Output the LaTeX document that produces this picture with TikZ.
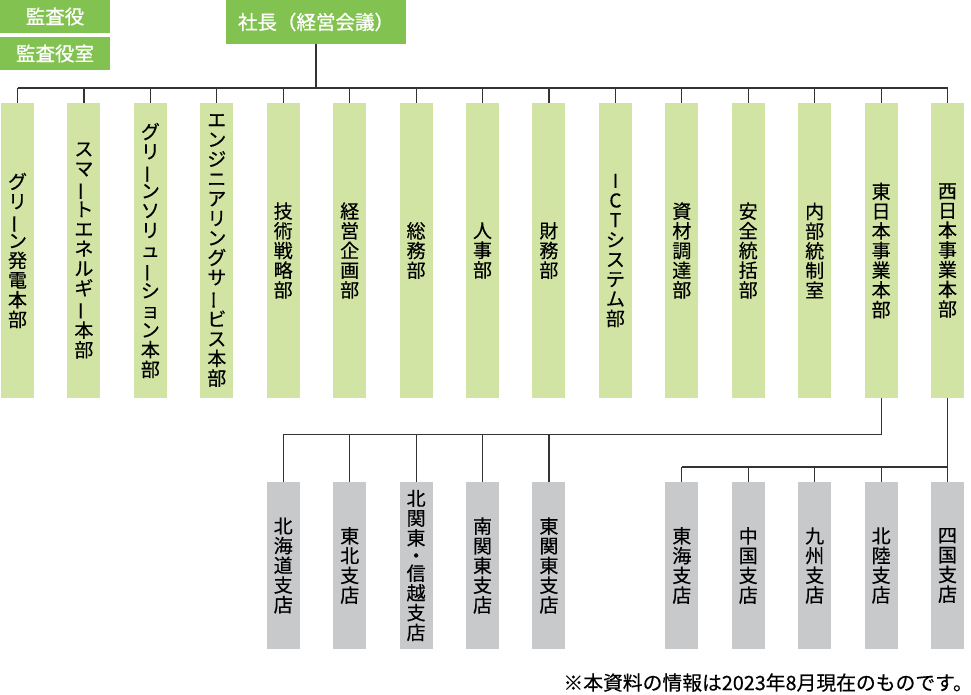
\documentclass[tikz,border=0pt]{standalone}
\usepackage{fontspec}
\usepackage{xcolor}
\setmainfont{Noto Sans CJK JP}
\newfontfamily\jpmed{Noto Sans CJK JP}[FakeBold=0.35]
\newfontfamily\jptop{Noto Sans CJK JP}[FakeBold=0.9]
\definecolor{TopGreen}{HTML}{82C250}
\definecolor{DeptGreen}{HTML}{D2E4A4}
\definecolor{BranchGray}{HTML}{C8C9CB}
\definecolor{EdgeLine}{HTML}{333333}
% vertical long-vowel mark
\newcommand{\cho}{\rotatebox[origin=c]{90}{ー}}

\begin{document}
\begin{tikzpicture}[
	x=1pt, y=-1pt,
	% Style for the top boxes (white text)
	node top/.style={
		rectangle,
		fill=TopGreen,
		text=white,
		inner sep=0pt,
		font=\jptop\fontsize{19.5}{21}\selectfont
	},
	% Styles for the vertical department / branch boxes
	node dept/.style={
		rectangle,
		fill=DeptGreen,
		text=black,
		minimum width=33,
		minimum height=295,
		inner sep=0pt,
		align=center,
		font=\jpmed\fontsize{19}{19.7}\selectfont
	},
	node branch/.style={
		rectangle,
		fill=BranchGray,
		text=black,
		minimum width=33,
		minimum height=167,
		inner sep=0pt,
		align=center,
		font=\jpmed\fontsize{19}{19.7}\selectfont
	},
	% Style for the connecting lines
	edge/.style={
		draw=EdgeLine,
		line width=1.2pt
	}
	]
	
	\useasboundingbox (0,0) rectangle (971,694);
	
	% ================= TOP =================
	\node[node top, minimum width=110, minimum height=33] (KA)  at (55, 16.5) {監査役};
	\node[node top, minimum width=110, minimum height=33] (KAS) at (55, 53.5) {監査役室};
	\node[node top, minimum width=180, minimum height=44] (CEO) at (316, 22) {社長（経営会議）};
	
	% ================= DEPARTMENTS =================
	\node[node dept] (D1)  at ( 17.5, 250.5) {グ\\リ\\\cho\\ン\\発\\電\\本\\部};
	\node[node dept] (D2)  at ( 83.9, 250.5) {ス\\マ\\\cho\\ト\\エ\\ネ\\ル\\ギ\\\cho\\本\\部};
	\node[node dept] (D3)  at (150.4, 250.5) {グ\\リ\\\cho\\ン\\ソ\\リ\\ュ\\\cho\\シ\\ョ\\ン\\本\\部};
	\node[node dept] (D4)  at (216.8, 250.5) {エ\\ン\\ジ\\ニ\\ア\\リ\\ン\\グ\\サ\\\cho\\ビ\\ス\\本\\部};
	\node[node dept] (D5)  at (283.2, 250.5) {技\\術\\戦\\略\\部};
	\node[node dept] (D6)  at (349.7, 250.5) {経\\営\\企\\画\\部};
	\node[node dept] (D7)  at (416.1, 250.5) {総\\務\\部};
	\node[node dept] (D8)  at (482.5, 250.5) {人\\事\\部};
	\node[node dept] (D9)  at (548.9, 250.5) {財\\務\\部};
	\node[node dept] (D10) at (615.4, 250.5) {I\\C\\T\\シ\\ス\\テ\\ム\\部};
	\node[node dept] (D11) at (681.8, 250.5) {資\\材\\調\\達\\部};
	\node[node dept] (D12) at (748.2, 250.5) {安\\全\\統\\括\\部};
	\node[node dept] (D13) at (814.7, 250.5) {内\\部\\統\\制\\室};
	\node[node dept] (EAST) at (881.1, 250.5) {東\\日\\本\\事\\業\\本\\部};
	\node[node dept] (WEST) at (947.5, 250.5) {西\\日\\本\\事\\業\\本\\部};
	
	% ================= BRANCHES =================
	\node[node branch] (B1)  at (283.2, 565.5) {北\\海\\道\\支\\店};
	\node[node branch] (B2)  at (349.7, 565.5) {東\\北\\支\\店};
	\node[node branch] (B3)  at (416.1, 565.5) {北\\関\\東\\[-2pt]・\\[-2pt]信\\越\\支\\店};
	\node[node branch] (B4)  at (482.5, 565.5) {南\\関\\東\\支\\店};
	\node[node branch] (B5)  at (548.9, 565.5) {東\\関\\東\\支\\店};
	\node[node branch] (B6)  at (681.8, 565.5) {東\\海\\支\\店};
	\node[node branch] (B7)  at (748.2, 565.5) {中\\国\\支\\店};
	\node[node branch] (B8)  at (814.7, 565.5) {九\\州\\支\\店};
	\node[node branch] (B9)  at (881.1, 565.5) {北\\陸\\支\\店};
	\node[node branch] (B10) at (947.5, 565.5) {四\\国\\支\\店};
	
	% footnote
	\node[anchor=south east, inner sep=0pt, font=\jpmed\fontsize{19.8}{21}\selectfont] (NOTE) at (973, 692) {※本資料の情報は2023年8月現在のものです。};
	
	% ================= EDGES =================
	\coordinate (busL) at (17.5, 88);
	\coordinate (busR) at (947.5, 88);
	\coordinate (eastbus) at (283.2, 434.5);
	\coordinate (westbus) at (681.8, 467);
	
	\draw[edge] (CEO.south) -- (CEO.south |- busL);
	\draw[edge] (busL) -- (busR);
	\draw[edge] (D1.north) -- (D1.north |- busL);
	\draw[edge] (D2.north) -- (D2.north |- busL);
	\draw[edge] (D3.north) -- (D3.north |- busL);
	\draw[edge] (D4.north) -- (D4.north |- busL);
	\draw[edge] (D5.north) -- (D5.north |- busL);
	\draw[edge] (D6.north) -- (D6.north |- busL);
	\draw[edge] (D7.north) -- (D7.north |- busL);
	\draw[edge] (D8.north) -- (D8.north |- busL);
	\draw[edge] (D9.north) -- (D9.north |- busL);
	\draw[edge] (D10.north) -- (D10.north |- busL);
	\draw[edge] (D11.north) -- (D11.north |- busL);
	\draw[edge] (D12.north) -- (D12.north |- busL);
	\draw[edge] (D13.north) -- (D13.north |- busL);
	\draw[edge] (EAST.north) -- (EAST.north |- busL);
	\draw[edge] (WEST.north) -- (WEST.north |- busL);
	
	\draw[edge] (EAST.south) |- (eastbus);
	\draw[edge] (B1.north) -- (B1.north |- eastbus);
	\draw[edge] (B2.north) -- (B2.north |- eastbus);
	\draw[edge] (B3.north) -- (B3.north |- eastbus);
	\draw[edge] (B4.north) -- (B4.north |- eastbus);
	\draw[edge] (B5.north) -- (B5.north |- eastbus);
	
	\draw[edge] (WEST.south) -- (B10.north);
	\draw[edge] (westbus) -- (westbus -| WEST);
	\draw[edge] (B6.north) -- (B6.north |- westbus);
	\draw[edge] (B7.north) -- (B7.north |- westbus);
	\draw[edge] (B8.north) -- (B8.north |- westbus);
	\draw[edge] (B9.north) -- (B9.north |- westbus);
	
\end{tikzpicture}
\end{document}
